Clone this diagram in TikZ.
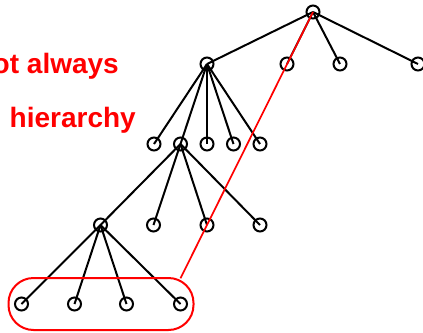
\documentclass[tikz,border=0pt]{standalone}
\usepackage{fontspec}
\setmainfont{Liberation Sans}
\usetikzlibrary{positioning,fit,calc}

\begin{document}
\begin{tikzpicture}[x=1pt, y=-1pt, on grid, node distance=80pt and 26.5pt,
    vert/.style={circle, draw, line width=2pt, minimum size=13pt, inner sep=0pt},
    edge/.style={line width=2pt},
    remark/.style={text=red, font=\bfseries\fontsize{28}{30}\selectfont, inner sep=0pt, anchor=base east}]
    \useasboundingbox (0,0) rectangle (423,332);

    % Remarks
    \node (note1) [remark] at (119,73) {ot always};
    \node (note2) [remark] at (136,127) {hierarchy};

    % Root and first level
    \node (root) [vert] at (313,12) {};
    \node (a1) [vert, below left=52pt and 106pt of root] {};
    \node (a2) [vert, right=80pt of a1] {};
    \node (a3) [vert, right=53pt of a2] {};
    \node (a4) [vert, right=78pt of a3] {};

    % Second level
    \node (b3) [vert, below=of a1] {};
    \node (b2) [vert, left=of b3] {};
    \node (b1) [vert, left=of b2] {};
    \node (b4) [vert, right=of b3] {};
    \node (b5) [vert, right=of b4] {};

    % Third level
    \node (c1) [vert, below left=81pt and 80pt of b2] {};
    \node (c2) [vert, below left=81pt and 27pt of b2] {};
    \node (c3) [vert, below=81pt of b3] {};
    \node (c4) [vert, below=81pt of b5] {};

    % Leaves
    \node (d1) [vert, below left=79pt and 79pt of c1] {};
    \node (d2) [vert, below left=79pt and 26pt of c1] {};
    \node (d3) [vert, below right=79pt and 26pt of c1] {};
    \node (d4) [vert, below right=79pt and 80pt of c1] {};

    % Edges
    \foreach \k in {a1,a2,a3,a4} \draw[edge] (root.center) -- (\k.center);
    \foreach \k in {b1,b2,b3,b4,b5} \draw[edge] (a1.center) -- (\k.center);
    \foreach \k in {c1,c2,c3,c4} \draw[edge] (b2.center) -- (\k.center);
    \foreach \k in {d1,d2,d3,d4} \draw[edge] (c1.center) -- (\k.center);

    % Highlighted leaves
    \node (group) [draw=red, line width=2pt, rounded corners=25pt, fit=(d1)(d4), inner xsep=5.5pt, inner ysep=18.5pt] {};
    \coordinate (hook) at ($(root.center)!1.25!(c3.center)$);
    \draw[red, line width=1.7pt] (root.center) -- (hook);
\end{tikzpicture}
\end{document}
